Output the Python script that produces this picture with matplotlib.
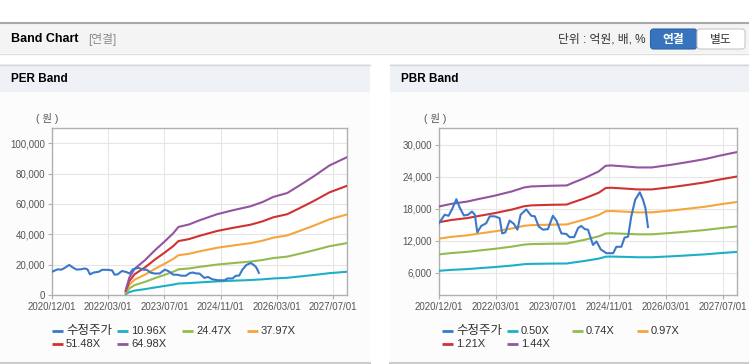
import matplotlib.pyplot as plt
from matplotlib.patches import Rectangle, FancyBboxPatch
from matplotlib.ticker import FuncFormatter

plt.rcParams['font.family'] = ['Liberation Sans', 'Noto Sans CJK KR', 'DejaVu Sans']

W, H = 749, 364

# x axis in months since 2020/12/01
x_ticks = [0, 16, 32, 48, 64, 80]
x_labels = ['2020/12/01', '2022/03/01', '2023/07/01', '2024/11/01', '2026/03/01', '2027/07/01']

price_month = [0, 1.6, 2.7, 3.8, 4.9, 5.8, 7.0, 8.2, 9.3, 10.1, 10.8, 11.9, 13.3, 14.3, 15.7,
               17.1, 17.8, 18.7, 19.9, 21.1, 22.1, 23.0, 24.6, 26.0, 27.0, 28.1, 29.3, 30.7,
               32.1, 33.1, 34.5, 35.9, 36.8, 38.1, 39.2, 40.1, 41.1, 42.0, 43.4, 44.4, 45.6,
               47.2, 49.1, 50.0, 51.4, 52.3, 53.3, 54.2, 55.3, 56.6, 57.5, 58.2, 58.9]
price = [15300, 16900, 16700, 18100, 19800, 18300, 16750, 16900, 17500, 16900, 13600, 14800,
         15300, 16600, 16600, 16250, 13400, 13600, 15800, 15200, 14100, 16900, 17900, 16700,
         16600, 14700, 14100, 14200, 16700, 15800, 13400, 13300, 12700, 12700, 14400, 14800,
         14200, 14100, 11250, 11900, 10400, 9700, 9700, 10900, 10900, 12600, 12800, 16600,
         19700, 21100, 19700, 18100, 14600]

eps_month = [21, 22, 23.5, 26.5, 29.5, 32, 34.5, 36, 39, 42, 47, 51.5, 56.5, 60, 63, 67,
             70.5, 74.5, 79, 84]
eps = [50, 175, 265, 354, 460, 540, 625, 690, 715, 757, 819, 859, 899, 943, 994, 1034,
       1111, 1202, 1313, 1397]
per_multiples = [10.96, 24.47, 37.97, 51.48, 64.98]

bps_month = [0, 3.5, 8, 11, 15.5, 20.5, 24, 26, 31.5, 36, 37.5, 41, 45, 47, 48.5, 52.5,
             56, 60, 62, 65.5, 69.5, 75, 79, 84]
bps = [12810, 13150, 13450, 13760, 14190, 14760, 15280, 15410, 15500, 15540, 15840, 16490,
       17360, 18100, 18140, 18010, 17880, 17880, 18010, 18230, 18530, 18970, 19400, 19880]
pbr_multiples = [0.50, 0.74, 0.97, 1.21, 1.44]

price_color = '#3b78c9'
band_colors = ['#1cb0c6', '#92bb50', '#f5a53c', '#d03131', '#93559f']

fig = plt.figure(figsize=(W / 100, H / 100), dpi=100, facecolor='white')
bg = fig.add_axes([0, 0, 1, 1], zorder=0)
bg.set_xlim(0, W)
bg.set_ylim(H, 0)
bg.axis('off')


def box(x0, y0, x1, y1, **kw):
    bg.add_patch(Rectangle((x0, y0), x1 - x0, y1 - y0, **kw))


# page header
box(0, 23, W, 53, facecolor='#f4f4f4', edgecolor='none')
bg.plot([0, W], [22.5, 22.5], color='#a8a8a8', lw=1.5)
bg.plot([0, W], [53.5, 53.5], color='#dedede', lw=1)
bg.text(11, 39, 'Band Chart', fontsize=9, fontweight='bold', va='center')
bg.text(88, 39.5, '[연결]', fontsize=8.5, color='#8a8a8a', va='center')
bg.text(645, 39.5, '단위 : 억원, 배, %', fontsize=8.5, color='#333333', ha='right', va='center')
bg.add_patch(FancyBboxPatch((650.5, 29), 46.5, 20, boxstyle='round,pad=0,rounding_size=3',
                            facecolor='#3873bd', edgecolor='#2e64a8', lw=0.8))
bg.text(673.5, 39.5, '연결', fontsize=8.5, color='white', fontweight='bold',
        ha='center', va='center')
bg.add_patch(FancyBboxPatch((697, 29), 48, 20, boxstyle='round,pad=0,rounding_size=3',
                            facecolor='white', edgecolor='#c8c8c8', lw=0.8))
bg.text(721, 39.5, '별도', fontsize=8.5, color='#333333', ha='center', va='center')

# panels
for x0, x1, title in [(0, 370, 'PER Band'), (390, W, 'PBR Band')]:
    box(x0, 64, x1, 362, facecolor='#fcfcfc', edgecolor='none')
    box(x0, 64, x1, 92, facecolor='#eef1f6', edgecolor='none')
    bg.plot([x0, x1], [64.5, 64.5], color='#d6d6d6', lw=1)
    bg.plot([x0, x1], [362.5, 362.5], color='#cccccc', lw=1.5)
    bg.text(x0 + 11, 79, title, fontsize=8.5, fontweight='bold', va='center')


def make_axes(left_px, width_px, ylim, yticks):
    ax = fig.add_axes([left_px / W, 1 - 295 / H, width_px / W, 167 / H], zorder=2)
    ax.set_facecolor('white')
    ax.set_xlim(0, 84)
    ax.set_ylim(*ylim)
    ax.set_xticks(x_ticks, x_labels)
    ax.set_yticks(yticks)
    ax.yaxis.set_major_formatter(FuncFormatter(lambda v, p: f'{v:,.0f}'))
    ax.grid(True, color='#e6e6e6', lw=0.8)
    ax.set_axisbelow(True)
    ax.tick_params(labelsize=7, colors='#555555', length=3, pad=2)
    ax.tick_params(color='#b0b0b0')
    for s in ax.spines.values():
        s.set_color('#b0b0b0')
        s.set_linewidth(1)
    return ax


ax1 = make_axes(52, 295, (0, 110000), range(0, 100001, 20000))
ax2 = make_axes(439, 298, (1875, 33130), range(6000, 30001, 6000))

for ax, base_t, base, mults in [(ax1, eps_month, eps, per_multiples),
                                (ax2, bps_month, bps, pbr_multiples)]:
    for m, c in zip(mults, band_colors):
        ax.plot(base_t, [m * b for b in base], color=c, lw=1.5, zorder=3)
    ax.plot(price_month, price, color=price_color, lw=1.5, zorder=4)

bg.text(47, 118, '( 원 )', fontsize=7.5, color='#555555', ha='center', va='center')
bg.text(435, 118, '( 원 )', fontsize=7.5, color='#555555', ha='center', va='center')

# legends
per_names = ['수정주가'] + [f'{m:.2f}X' for m in per_multiples]
pbr_names = ['수정주가'] + [f'{m:.2f}X' for m in pbr_multiples]
colors = [price_color] + band_colors
for lx, names in [(52, per_names), (442, pbr_names)]:
    for i, (name, c) in enumerate(zip(names, colors)):
        col, row = i % 4, i // 4
        x = lx + col * 65
        y = 330.5 + row * 13
        bg.plot([x, x + 11], [y, y], color=c, lw=2, solid_capstyle='butt')
        size = 9 if i == 0 else 8
        bg.text(x + 14, y + 0.5, name, fontsize=size, color='#333333', va='center')

fig.savefig('out.png', dpi=100, facecolor=fig.get_facecolor())
